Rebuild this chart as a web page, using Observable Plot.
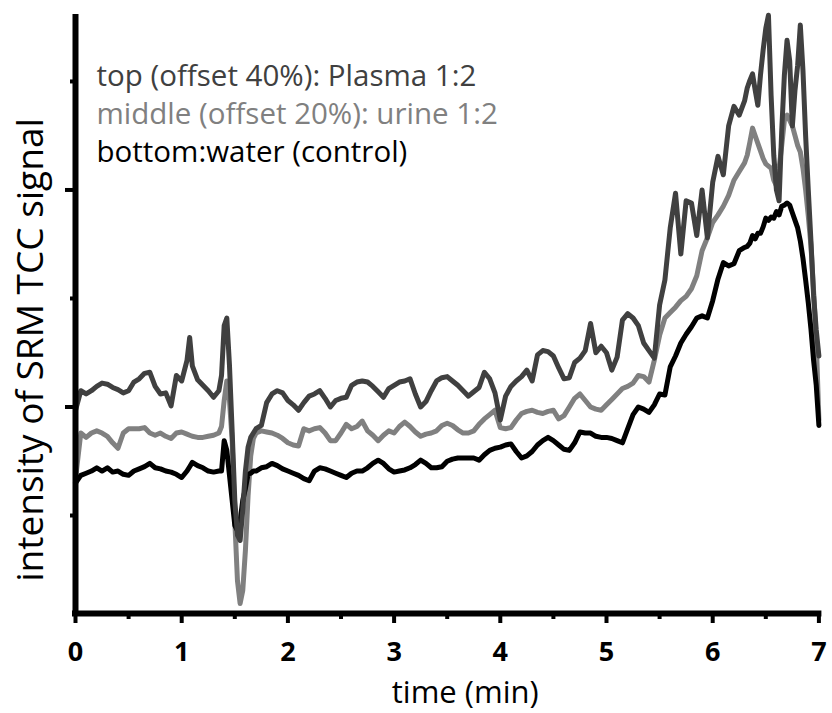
<!DOCTYPE html>
<html><head><meta charset="utf-8">
<script src="https://cdn.jsdelivr.net/npm/d3@7"></script>
<script src="https://cdn.jsdelivr.net/npm/@observablehq/plot@0.6"></script>
<style>html,body{margin:0;padding:0;background:#fff;} #chart{width:832px;height:713px;}</style>
</head><body><div id="chart"></div>
<script>
// time axis (min)
const timeMin = [0,0.05,0.1,0.15,0.2,0.25,0.3,0.35,0.4,0.45,0.5,0.55,0.6,0.65,0.7,0.75,0.8,0.85,0.9,0.95,1,1.05,1.075,1.1,1.15,1.2,1.25,1.3,1.35,
1.375,1.4,1.425,1.45,1.475,1.5,1.525,1.55,1.575,1.6,1.625,1.65,1.675,1.7,
1.75,1.8,1.85,1.9,1.95,2,2.05,2.1,2.15,2.2,2.25,2.3,2.35,2.4,2.45,2.5,2.55,2.6,2.65,2.7,2.75,2.8,2.85,2.9,2.95,3,3.05,3.1,3.15,3.2,3.25,3.3,3.35,3.4,3.45,3.5,3.55,3.6,3.65,3.7,3.75,3.8,3.85,3.9,3.95,4,4.05,4.1,4.15,4.2,4.25,4.3,4.35,4.4,4.45,4.5,4.55,4.6,4.65,4.7,4.75,4.8,4.85,4.9,4.95,5,5.05,5.1,5.15,5.2,5.25,5.3,5.35,5.4,5.45,5.5,5.55,5.6,5.65,5.7,5.75,5.8,5.85,5.9,5.95,6,6.05,6.1,6.15,6.2,6.25,6.3,
6.325,6.35,6.375,6.4,6.425,6.45,6.475,6.5,6.525,6.55,6.575,6.6,6.625,6.65,6.675,6.7,6.725,6.75,6.775,6.8,6.825,6.85,6.875,6.9,6.925,6.95,6.975,7];

// bottom: water (control)
const water = [13.0,13.7,13.9,14.1,14.4,14.1,14.4,14.0,14.1,13.8,13.7,14.1,14.3,14.5,14.8,14.4,14.3,14.1,14.0,13.8,13.5,14.1,
14.5,
14.9,14.6,14.4,14.1,14.0,14.1,
14.1,16.9,16.0,13.7,11.4,9.1,8.6,9.5,11.4,12.5,13.8,13.9,14.1,14.1,
14.4,14.5,14.8,14.6,14.3,14.1,13.9,13.7,13.4,13.2,
14.1,14.4,14.3,14.1,13.9,13.7,13.5,13.9,14.1,14.1,
14.4,14.8,15.1,14.8,14.3,14.0,14.1,14.2,14.4,14.7,
15.1,14.8,14.4,14.4,14.5,15.0,15.2,15.3,15.3,15.3,
15.3,15.1,15.6,16.0,16.2,16.3,16.5,16.6,15.9,15.3,
15.5,15.9,16.5,16.9,17.2,16.9,16.5,16.1,16.0,16.7,
17.7,17.6,17.6,17.3,17.2,17.2,17.1,16.9,16.7,18.0,
19.3,20.0,19.8,19.5,20.2,21.2,21.1,23.7,24.7,25.9,
26.7,27.4,28.2,28.4,28.2,29.8,31.8,33.3,33.0,33.2,
34.4,34.7,
34.8,35.1,35.8,35.5,36.0,36.0,36.6,37.4,37.2,37.5,37.4,38.0,37.7,38.5,38.6,38.8,38.6,37.9,37.2,36.5,35.3,33.7,31.7,29.6,27.2,24.3,22.0,18.3];

// middle (offset 20%): urine 1:2
const urine = [13.4,17.6,17.2,17.6,17.8,17.6,17.3,16.7,16.2,17.6,18.0,18.0,18.0,18.1,17.6,17.4,17.6,17.3,17.1,17.6,17.7,17.5,
17.4,
17.3,17.2,17.2,17.3,17.4,17.6,
18.2,20.6,22.4,20.6,16.9,9.5,4.0,1.9,3.1,6.8,11.8,15.5,17.1,17.6,
17.8,17.7,17.6,17.4,17.1,16.7,16.5,16.4,18.0,17.8,
18.0,18.1,17.6,16.9,16.9,17.6,18.4,18.0,18.2,18.7,
17.8,17.4,16.9,17.4,17.8,17.6,18.2,18.6,18.2,17.7,
17.3,17.5,17.6,17.8,18.3,18.5,18.3,17.9,17.6,17.6,
17.8,18.4,18.9,19.3,19.7,18.1,18.0,18.1,18.8,19.4,
19.6,19.7,19.5,19.4,19.6,19.7,18.9,19.2,20.0,20.8,
21.2,20.6,20.0,19.8,19.7,20.2,20.7,21.2,21.7,21.9,
22.2,22.9,22.8,22.3,24.3,26.6,28.2,28.7,29.2,29.8,
30.2,30.9,32.1,34.4,35.6,37.0,37.7,38.5,39.5,40.9,
41.7,42.5,
43.2,44.4,45.7,45.0,44.3,43.6,42.9,42.4,42.2,42.0,40.9,40.4,42.0,44.1,46.4,46.9,46.4,45.9,45.0,44.1,43.5,42.0,40.0,37.6,34.9,30.7,26.1,18.8];

// top (offset 40%): Plasma 1:2
const plasma = [19.7,21.5,21.2,21.5,21.9,22.2,22.1,21.8,21.6,21.3,21.5,22.3,22.6,23.1,23.2,21.9,21.2,21.3,20.1,22.9,22.4,24.3,
26.4,
23.8,22.5,22.0,21.5,20.9,21.5,
22.9,27.5,28.2,23.8,17.8,11.4,8.2,7.7,10.5,14.1,16.3,17.2,17.6,18.0,
18.3,20.4,21.2,21.5,21.3,20.6,20.2,19.7,20.4,21.0,
21.2,21.5,20.8,20.0,20.6,20.8,20.9,22.0,22.3,22.4,
22.3,21.9,21.4,20.9,21.7,22.0,22.3,22.4,22.6,21.2,
20.0,20.5,21.5,22.4,22.7,22.8,22.4,22.0,21.5,21.0,
21.4,21.8,23.2,22.6,21.3,18.8,21.0,21.9,22.4,22.8,
23.4,22.4,24.8,25.2,25.1,24.7,23.6,22.6,22.7,24.1,
24.5,25.2,27.7,25.0,25.6,25.0,23.4,24.6,28.0,28.6,
28.2,27.5,25.9,25.2,24.5,29.4,31.7,36.5,39.7,34.1,
39.0,38.8,35.8,40.0,35.6,40.7,43.1,41.4,45.9,47.7,
46.9,48.2,
49.4,50.1,50.7,49.2,47.8,50.6,52.9,54.9,56.1,48.7,43.2,40.0,39.0,45.5,50.6,53.8,51.9,45.9,49.2,51.5,55.2,51.0,45.0,40.0,35.3,30.3,27.1,24.7];

const seriesNames = ["urine", "water", "plasma"];          // drawing order
const seriesColors = {plasma: "#404040", urine: "#808080", water: "#000000"};
const legendLabels = ["top (offset 40%): Plasma 1:2", "middle (offset 20%): urine 1:2", "bottom:water (control)"];
const legendColors = ["#404040", "#808080", "#000000"];

const xMajor = [0,1,2,3,4,5,6,7];
const xMinor = [0.5,1.5,2.5,3.5,4.5,5.5,6.5];
const yMajor = [20, 40];
const yMinor = [10, 30, 50];
const xDomain = [0, 7];
const yDomain = [0.97, 56.17];
const xTitle = "time (min)";
const yTitle = "intensity of SRM TCC signal";

const valuesBy = {water, urine, plasma};
const rows = name => timeMin.map((t, i) => ({t, v: valuesBy[name][i]})).filter(d => d.v != null);

const FONT = "Open Sans";

const chart = Plot.plot({
  width: 832, height: 713,
  marginLeft: 75, marginRight: 13.6, marginTop: 14, marginBottom: 100,
  x: {domain: xDomain},
  y: {domain: yDomain},
  style: {fontFamily: FONT, background: "white", color: "black", overflow: "visible"},
  marks: [
    ...seriesNames.map(name => Plot.line(rows(name), {
      x: "t", y: "v", stroke: seriesColors[name], strokeWidth: 5,
      strokeLinejoin: "round", strokeLinecap: "round"
    })),
    // axis lines
    Plot.ruleX([xDomain[0]], {y1: yDomain[0], y2: yDomain[1], strokeWidth: 6, stroke: "black"}),
    Plot.ruleY([yDomain[0]], {x1: xDomain[0], x2: xDomain[1], strokeWidth: 6, stroke: "black", strokeLinecap: "square"}),
    // x ticks
    Plot.axisX({ticks: xMajor, tickSize: 10, tickPadding: 18, strokeWidth: 4, fontSize: 27, fontWeight: "bold",
      fontFamily: FONT, label: null, tickFormat: d => String(d)}),
    Plot.axisX({ticks: xMinor, tickSize: 6, strokeWidth: 4, label: null, tickFormat: () => ""}),
    // y ticks
    Plot.axisY({ticks: yMajor, tickSize: 10, strokeWidth: 4, label: null, tickFormat: () => ""}),
    Plot.axisY({ticks: yMinor, tickSize: 5, strokeWidth: 4, label: null, tickFormat: () => ""}),
    // axis titles
    Plot.text([xTitle], {text: d => d, frameAnchor: "bottom", dx: 18, dy: 67, lineAnchor: "top",
      fontSize: 31, fontFamily: FONT, fill: "black"}),
    Plot.text([yTitle], {text: d => d, frameAnchor: "left", rotate: -90, dx: -44, dy: 36,
      lineAnchor: "middle", textAnchor: "middle", fontSize: 37, fontFamily: FONT, fill: "black"}),
    // legend
    ...legendLabels.map((lab, i) => Plot.text([lab], {text: d => d, frameAnchor: "top-left",
      dx: 21, dy: 51 + 38 * i, lineAnchor: "top", textAnchor: "start",
      fontSize: 29.5, fontFamily: FONT, fill: legendColors[i]}))
  ]
});
document.getElementById("chart").appendChild(chart);
</script></body></html>
